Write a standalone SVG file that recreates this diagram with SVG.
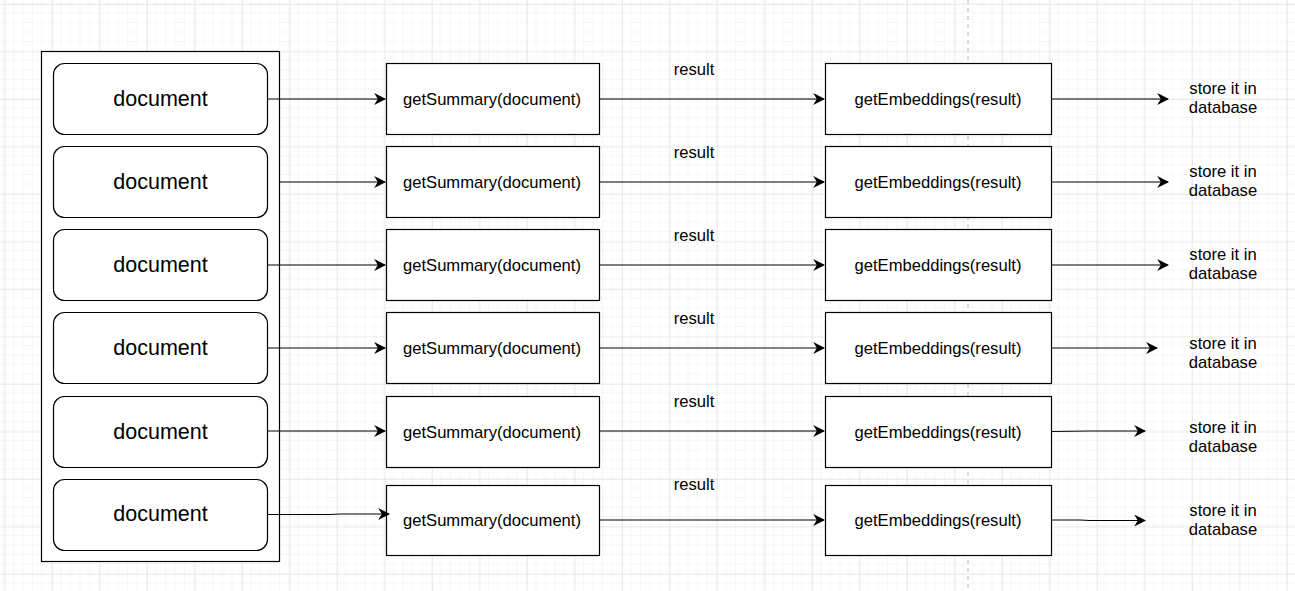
<svg xmlns="http://www.w3.org/2000/svg" width="1295" height="591" viewBox="0 0 1295 591">
<defs>
<pattern id="minor" x="4.5" y="4" width="9.5" height="9.5" patternUnits="userSpaceOnUse">
<path d="M9.5 0V9.5M0 9.5H9.5" fill="none" stroke="#f0f0f0" stroke-width="1"/>
</pattern>
<pattern id="major" x="4.5" y="4" width="47.5" height="47.5" patternUnits="userSpaceOnUse">
<path d="M0 0V47.5M0 0H47.5" fill="none" stroke="#dcdcdc" stroke-width="1"/>
</pattern>
<marker id="arr" viewBox="0 0 10 10" refX="9" refY="5" markerWidth="12" markerHeight="12" markerUnits="userSpaceOnUse" orient="auto">
<path d="M0 0L10 5L0 10L3 5Z" fill="#000"/>
</marker>
<style>
.doc{fill:#fff;stroke:#000;stroke-width:1.2}
.box{fill:#fff;stroke:#000;stroke-width:1.2}
.t20{font-family:"Liberation Sans",Arial,sans-serif;font-size:21.5px;fill:#000;text-anchor:middle}
.t15{font-family:"Liberation Sans",Arial,sans-serif;font-size:16.6px;fill:#000;text-anchor:middle}
.c{fill:none;stroke:#000;stroke-width:1.2;marker-end:url(#arr)}
</style>
</defs>
<rect width="1295" height="591" fill="#fff"/>
<rect width="1295" height="591" fill="url(#minor)"/>
<rect width="1295" height="591" fill="url(#major)"/>
<line x1="968" y1="0" x2="968" y2="591" stroke="#d0d0d0" stroke-width="1.5" stroke-dasharray="4 4"/>

<g id="container"><rect x="41.5" y="51.5" width="238" height="510" fill="#fff" stroke="#000" stroke-width="1.2"/></g>

<g id="doc1"><rect class="doc" x="53.5" y="63.5" width="214" height="71" rx="11"/><text class="t20" x="160.5" y="106">document</text></g>
<g id="doc2"><rect class="doc" x="53.5" y="146.5" width="214" height="71" rx="11"/><text class="t20" x="160.5" y="189">document</text></g>
<g id="doc3"><rect class="doc" x="53.5" y="229.5" width="214" height="71" rx="11"/><text class="t20" x="160.5" y="272">document</text></g>
<g id="doc4"><rect class="doc" x="53.5" y="312.5" width="214" height="71" rx="11"/><text class="t20" x="160.5" y="355">document</text></g>
<g id="doc5"><rect class="doc" x="53.5" y="396.5" width="214" height="71" rx="11"/><text class="t20" x="160.5" y="439">document</text></g>
<g id="doc6"><rect class="doc" x="53.5" y="479.5" width="214" height="71" rx="11"/><text class="t20" x="160.5" y="521">document</text></g>

<g id="sum1"><rect class="box" x="386.5" y="63.5" width="213" height="71"/><text class="t15" x="492" y="105">getSummary(document)</text></g>
<g id="sum2"><rect class="box" x="386.5" y="146.5" width="213" height="71"/><text class="t15" x="492" y="188">getSummary(document)</text></g>
<g id="sum3"><rect class="box" x="386.5" y="229.5" width="213" height="71"/><text class="t15" x="492" y="271">getSummary(document)</text></g>
<g id="sum4"><rect class="box" x="386.5" y="312.5" width="213" height="71"/><text class="t15" x="492" y="354">getSummary(document)</text></g>
<g id="sum5"><rect class="box" x="386.5" y="396.5" width="213" height="71"/><text class="t15" x="492" y="438">getSummary(document)</text></g>
<g id="sum6"><rect class="box" x="386.5" y="485.5" width="213" height="70"/><text class="t15" x="492" y="526">getSummary(document)</text></g>

<g id="emb1"><rect class="box" x="825.5" y="63.5" width="226" height="71"/><text class="t15" x="938" y="105">getEmbeddings(result)</text></g>
<g id="emb2"><rect class="box" x="825.5" y="146.5" width="226" height="71"/><text class="t15" x="938" y="188">getEmbeddings(result)</text></g>
<g id="emb3"><rect class="box" x="825.5" y="229.5" width="226" height="71"/><text class="t15" x="938" y="271">getEmbeddings(result)</text></g>
<g id="emb4"><rect class="box" x="825.5" y="312.5" width="226" height="71"/><text class="t15" x="938" y="354">getEmbeddings(result)</text></g>
<g id="emb5"><rect class="box" x="825.5" y="396.5" width="226" height="71"/><text class="t15" x="938" y="438">getEmbeddings(result)</text></g>
<g id="emb6"><rect class="box" x="825.5" y="485.5" width="226" height="70"/><text class="t15" x="938" y="526">getEmbeddings(result)</text></g>

<g id="store1"><text class="t15" x="1223" y="94">store it in</text><text class="t15" x="1223" y="113">database</text></g>
<g id="store2"><text class="t15" x="1223" y="177">store it in</text><text class="t15" x="1223" y="196">database</text></g>
<g id="store3"><text class="t15" x="1223" y="260">store it in</text><text class="t15" x="1223" y="279">database</text></g>
<g id="store4"><text class="t15" x="1223" y="349">store it in</text><text class="t15" x="1223" y="368">database</text></g>
<g id="store5"><text class="t15" x="1223" y="433">store it in</text><text class="t15" x="1223" y="452">database</text></g>
<g id="store6"><text class="t15" x="1223" y="516">store it in</text><text class="t15" x="1223" y="535">database</text></g>

<g id="connectors">
<path class="c" d="M268 99H385"/>
<path class="c" d="M279 182H385"/>
<path class="c" d="M268 265H385"/>
<path class="c" d="M268 348H385"/>
<path class="c" d="M268 431H385"/>
<path class="c" d="M268 514.5H330Q335 514 340 514H389"/>
<path class="c" d="M600 99H824"/>
<path class="c" d="M600 182H824"/>
<path class="c" d="M600 265H824"/>
<path class="c" d="M600 348H824"/>
<path class="c" d="M600 431H824"/>
<path class="c" d="M600 520H824"/>
<path class="c" d="M1051 99H1168"/>
<path class="c" d="M1051 182H1168"/>
<path class="c" d="M1051 265H1168"/>
<path class="c" d="M1051 348H1157"/>
<path class="c" d="M1051 431.5Q1070 431 1090 431H1145"/>
<path class="c" d="M1051 520H1080Q1090 520.5 1100 520.5H1145"/>
<text class="t15" x="694" y="75">result</text>
<text class="t15" x="694" y="158">result</text>
<text class="t15" x="694" y="241">result</text>
<text class="t15" x="694" y="324">result</text>
<text class="t15" x="694" y="407">result</text>
<text class="t15" x="694" y="490">result</text>
</g>
</svg>
